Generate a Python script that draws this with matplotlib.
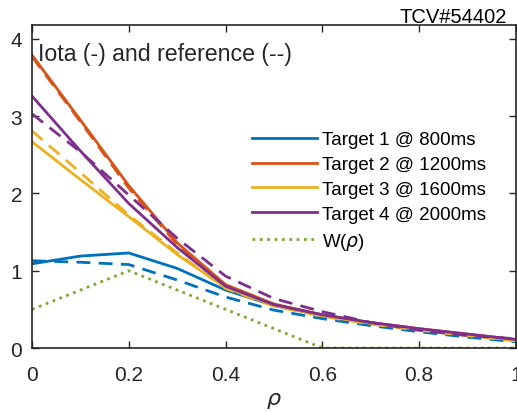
import numpy as np
import matplotlib
matplotlib.use('Agg')
import matplotlib.pyplot as plt

# radial grid
rho = [0.0, 0.1, 0.2, 0.3, 0.4, 0.5, 0.6, 0.7, 0.8, 0.9, 1.0]

# iota (solid) and reference (dashed) for each target time
iota_1 = [1.09, 1.19, 1.23, 1.03, 0.75, 0.55, 0.42, 0.32, 0.24, 0.17, 0.10]
ref_1 = [1.13, 1.11, 1.08, 0.88, 0.66, 0.49, 0.38, 0.29, 0.21, 0.14, 0.08]
iota_2 = [3.79, 2.95, 2.10, 1.36, 0.82, 0.57, 0.43, 0.33, 0.25, 0.18, 0.11]
ref_2 = [3.77, 2.93, 2.07, 1.34, 0.80, 0.56, 0.42, 0.32, 0.24, 0.17, 0.10]
iota_3 = [2.67, 2.18, 1.70, 1.21, 0.78, 0.55, 0.42, 0.32, 0.24, 0.17, 0.10]
ref_3 = [2.81, 2.27, 1.72, 1.23, 0.77, 0.54, 0.41, 0.31, 0.23, 0.16, 0.09]
iota_4 = [3.26, 2.55, 1.87, 1.30, 0.80, 0.56, 0.43, 0.33, 0.25, 0.18, 0.11]
ref_4 = [3.03, 2.54, 1.98, 1.42, 0.93, 0.64, 0.47, 0.33, 0.23, 0.16, 0.12]
weight = [0.5, 0.75, 1.0, 0.75, 0.5, 0.25, 0.0, 0.0, 0.0, 0.0, 0.0]

labels = ['Target 1 @ 800ms', 'Target 2 @ 1200ms',
          'Target 3 @ 1600ms', 'Target 4 @ 2000ms']
colors = [(0, 0.447, 0.741), (0.85, 0.325, 0.098),
          (0.929, 0.694, 0.125), (0.494, 0.184, 0.556)]
w_color = (0.466, 0.674, 0.188)

plt.rcParams['font.family'] = ['Liberation Sans', 'DejaVu Sans']
ax_col = (0.15, 0.15, 0.15)

fig = plt.figure(figsize=(5.17, 4.14), dpi=100)
ax = fig.add_axes([0.062, 0.157, 0.936, 0.78])

iotas = [iota_1, iota_2, iota_3, iota_4]
refs = [ref_1, ref_2, ref_3, ref_4]
handles = []
for iota, ref, c, lab in zip(iotas, refs, colors, labels):
    h, = ax.plot(rho, iota, '-', color=c, lw=2, label=lab)
    ax.plot(rho, ref, '--', color=c, lw=2, dashes=(5, 3))
    handles.append(h)
h, = ax.plot(rho, weight, ':', color=w_color, lw=2, label=r'W($\rho$)')
handles.append(h)

ax.set_xlim(0, 1)
ax.set_ylim(0, 4.18)
ax.set_xticks([0, 0.2, 0.4, 0.6, 0.8, 1])
ax.set_xticklabels(['0', '0.2', '0.4', '0.6', '0.8', '1'])
ax.set_yticks([0, 1, 2, 3, 4])
ax.tick_params(direction='in', top=True, right=True, length=5, width=1,
               colors=ax_col, labelsize=15)
ax.tick_params(axis='x', pad=12)
ax.tick_params(axis='y', pad=7)
for s in ax.spines.values():
    s.set_color(ax_col)
    s.set_linewidth(1.2)

ax.set_xlabel(r'$\rho$', fontsize=16, color=ax_col, labelpad=4)
ax.text(0.012, 0.913, 'Iota (-) and reference (--)', transform=ax.transAxes,
        fontsize=16.7, color=ax_col, va='center', ha='left')
fig.text(0.981, 0.958, 'TCV#54402', fontsize=14.5, color='k',
         ha='right', va='center')

ax.legend(handles=handles, loc='center left', bbox_to_anchor=(0.455, 0.485),
          frameon=False, fontsize=13.5, handlelength=3.45, labelspacing=0.41,
          handletextpad=0.27, borderaxespad=0, borderpad=0)

plt.savefig('out.png', dpi=100)
